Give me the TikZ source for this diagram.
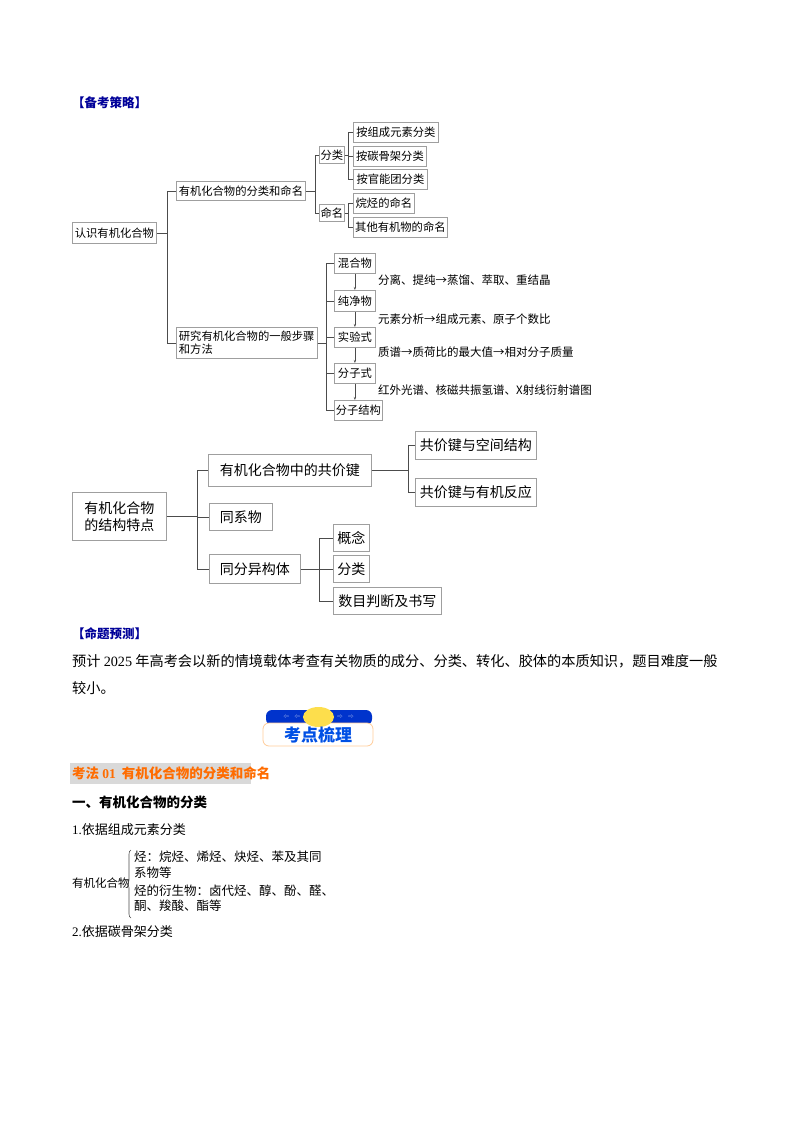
\documentclass[tikz,border=0pt]{standalone}
\usepackage{fontspec}
\setmainfont{Noto Sans CJK SC}
\newfontfamily\serifnum{Liberation Serif}
\usetikzlibrary{arrows.meta,calc,decorations.pathreplacing}
\tikzset{
  bx/.style={draw=gray!75,line width=0.8pt,inner sep=1pt,anchor=north west,font=\fontsize{11.3}{13.5}\selectfont},
  bxl/.style={bx,font=\fontsize{14}{17}\selectfont},
  ln/.style={draw=gray!60!black,line width=0.8pt},
  ar/.style={ln,-{Stealth[length=3pt]}},
  note/.style={anchor=west,font=\fontsize{11.5}{13}\selectfont,inner sep=0pt},
  body/.style={anchor=west,font=\fontsize{13}{16}\selectfont,inner sep=0pt},
}
\newcommand\bx[7][bx]{\node[#1,minimum width={#5-#3},minimum height={#6-#4}] (#2) at (#3,#4) {#7};}
\begin{document}
\begin{tikzpicture}[x=1pt,y=-1pt]
\useasboundingbox (0,0) rectangle (794,1122);
\fill[white] (0,0) rectangle (794,1122);
% header
\node[body,text=blue!60!black,font=\fontsize{12.5}{15}\selectfont\bfseries] (h1) at (72,103) {【备考策略】};
% top tree
\bx{r}{72}{222}{156}{243}{认识有机化合物}
\bx{a}{176}{181}{305}{200}{有机化合物的分类和命名}
\bx{b}{176}{327}{317}{358}{\parbox{136pt}{研究有机化合物的一般步骤\\和方法}}
\bx{fl}{319}{146}{344}{163}{分类}
\bx{mm}{319}{204}{344}{221}{命名}
\bx{f1}{353}{122}{438}{142}{按组成元素分类}
\bx{f2}{353}{146}{426}{166}{按碳骨架分类}
\bx{f3}{353}{169}{427}{189}{按官能团分类}
\bx{m1}{353}{193}{414}{213}{烷烃的命名}
\bx{m2}{353}{217}{447}{237}{其他有机物的命名}
\bx{s1}{334}{253}{375}{273}{混合物}
\bx{s2}{334}{290}{375}{311}{纯净物}
\bx{s3}{334}{327}{375}{347}{实验式}
\bx{s4}{334}{363}{375}{383}{分子式}
\bx{s5}{334}{400}{382}{420}{分子结构}
\foreach \c in {a,b} \draw[ln] (r.east) -- ++(11,0) |- (\c.west);
\foreach \c in {fl,mm} \draw[ln] (a.east) -- ++(10,0) |- (\c.west);
\foreach \c in {f1,f2,f3} \draw[ln] (fl.east) -- ++(4,0) |- (\c.west);
\foreach \c in {m1,m2} \draw[ln] (mm.east) -- ++(4,0) |- (\c.west);
\foreach \c in {s1,s2,s3,s4,s5} \draw[ln] (b.east) -- ++(9,0) |- (\c.west);
\draw[ar] (s1.south) -- (s2.north);
\draw[ar] (s2.south) -- (s3.north);
\draw[ar] (s3.south) -- (s4.north);
\draw[ar] (s4.south) -- (s4.south |- s5.north);
\node[note] (n1) at (378,280) {分离、提纯→蒸馏、萃取、重结晶};
\node[note] (n2) at (378,319) {元素分析→组成元素、原子个数比};
\node[note] (n3) at (378,352) {质谱→质荷比的最大值→相对分子质量};
\node[note] (n4) at (378,390) {红外光谱、核磁共振氢谱、X射线衍射谱图};
% middle tree
\bx[bxl]{t}{72}{492}{166}{540}{\parbox{80pt}{\centering 有机化合物\\的结构特点}}
\bx[bxl]{g1}{208}{454}{371}{486}{有机化合物中的共价键}
\bx[bxl]{g2}{209}{503}{272}{530}{同系物}
\bx[bxl]{g3}{209}{554}{300}{583}{同分异构体}
\bx[bxl]{k1}{415}{431}{536}{459}{共价键与空间结构}
\bx[bxl]{k2}{415}{478}{536}{506}{共价键与有机反应}
\bx[bxl]{i1}{333}{524}{369}{551}{概念}
\bx[bxl]{i2}{333}{555}{369}{582}{分类}
\bx[bxl]{i3}{333}{587}{441}{614}{数目判断及书写}
\foreach \c in {g1,g2,g3} \draw[ln] (t.east) -- ++(31,0) |- (\c.west);
\foreach \c in {k1,k2} \draw[ln] (g1.east) -- ++(37,0) |- (\c.west);
\foreach \c in {i1,i2,i3} \draw[ln] (g3.east) -- ++(19,0) |- (\c.west);
% prediction
\node[body,text=blue!60!black,font=\fontsize{12.5}{15}\selectfont\bfseries] (h2) at (72,634) {【命题预测】};
\node[body,font=\fontsize{14.2}{17}\selectfont] (p1) at (72,661) {预计 {\serifnum 2025} 年高考会以新的情境载体考查有关物质的成分、分类、转化、胶体的本质知识，题目难度一般};
\node[body,font=\fontsize{14.2}{17}\selectfont] (p2) at (72,688) {较小。};
% banner
\fill[blue!75!cyan!80!black,rounded corners=6pt] (266,710) rectangle (372,725);
\draw[orange!40,fill=white,rounded corners=6pt,line width=0.8pt] (263,723) rectangle (373,746);
\fill[yellow!70!orange!70] (318.5,717) ellipse (15.5 and 10);
\foreach \xx in {286,297} \node[text=white,font=\tiny] at (\xx,717) {⇦};
\foreach \xx in {340,351} \node[text=white,font=\tiny] at (\xx,717) {⇨};
\node[text=blue!65!cyan!90!black,font=\fontsize{17}{19}\selectfont\bfseries] (ban) at (318,735) {考点梳理};
% section
\fill[gray!30] (70,763) rectangle (251,784);
\node[body,text=orange!85!red,font=\fontsize{13.5}{16}\selectfont\bfseries] (s) at (72,773.5) {考法 {\serifnum 01}\ \ 有机化合物的分类和命名};
\node[body,font=\fontsize{13.5}{16}\selectfont\bfseries] (q1) at (72,802) {一、有机化合物的分类};
\node[body] (q2) at (72,830) {{\serifnum 1.}依据组成元素分类};
\node[body,font=\fontsize{11.5}{14}\selectfont] (oc) at (72,883) {有机化合物};
\draw[ln,line width=0.6pt,decorate,decoration={brace,amplitude=4pt,mirror}] (131,850) -- (131,918);
\begin{scope}[every node/.style={anchor=west,inner sep=0pt,font=\fontsize{12.5}{14}\selectfont}]
\node (l1) at (134,857) {烃：烷烃、烯烃、炔烃、苯及其同};
\node (l2) at (134,873) {系物等};
\node (l3) at (134,891) {烃的衍生物：卤代烃、醇、酚、醛、};
\node (l4) at (134,906) {酮、羧酸、酯等};
\end{scope}
\node[body] (q3) at (72,932) {{\serifnum 2.}依据碳骨架分类};
\end{tikzpicture}
\end{document}
